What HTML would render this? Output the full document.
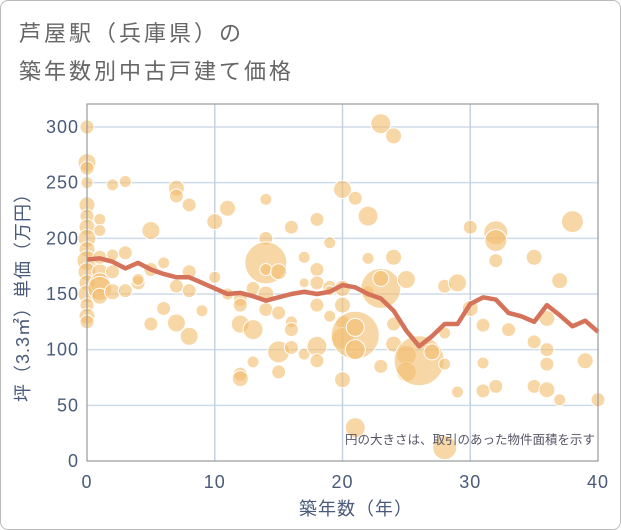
<!DOCTYPE html>
<html><head><meta charset="utf-8"><style>
body{margin:0;background:#fff;}
#wrap{position:relative;width:619px;height:528px;border:1px solid #bbb;border-radius:8px;overflow:hidden;background:#fff;font-family:"Liberation Sans","Noto Sans CJK JP",sans-serif;}
.t{position:absolute;left:18px;color:#666;font-size:22px;letter-spacing:3px;}
</style></head><body>
<div id="wrap">
<div class="t" style="top:15px">芦屋駅（兵庫県）の</div>
<div class="t" style="top:53px">築年数別中古戸建て価格</div>
<svg id="c" width="621" height="530" style="position:absolute;left:0;top:0"></svg>
</div>
<script>
const xTicks=[0,10,20,30,40];
const yTicks=[0,50,100,150,200,250,300];
const lineYears=[0,1,2,3,4,5,6,7,8,9,10,11,12,13,14,15,16,17,18,19,20,21,22,23,24,25,26,27,28,29,30,31,32,33,34,35,36,37,38,39,40];
const linePrices=[181,182,179,173,178,172,168,165,165,160,155,150,151,148,144,147,150,152,150,152,158,156,150,146,135,117,103,112,123,123,141,147,145,133,130,125,140,131,121,126,116];
const bubbleYears=[0,0,0,0,0,0,0,0,0,0,0,0,0,0,0,0,1,1,1,1,1,1,1,2,2,2,2,3,3,3,4,4,5,5,5,6,6,7,7,7,7,8,8,8,8,9,10,10,11,11,12,12,12,12,12,13,13,13,14,14,14,14,14,14,15,15,15,15,16,16,16,16,17,17,17,18,18,18,18,18,18,19,19,19,19,20,20,20,20,20,20,21,21,21,21,21,22,22,22,23,23,23,23,24,24,24,24,25,25,25,26,27,28,28,28,28,29,29,30,30,31,31,31,32,32,32,32,33,35,35,35,36,36,36,36,37,37,38,39,40];
const bubblePrices=[300,268,263,250,230,220,210,200,190,180,170,160,150,140,130,125,217,207,170,160,155,148,183,248,185,170,152,251,187,153,160,163,207,172,123,178,137,245,238,157,124,230,170,153,112,135,215,165,227,150,145,123,140,78,74,118,89,155,235,200,178,172,150,136,170,133,98,80,210,125,118,102,183,160,96,217,172,160,140,103,90,196,156,153,130,244,155,140,125,110,73,236,113,120,100,30,220,182,152,303,155,164,85,292,183,123,105,163,95,80,90,98,157,115,87,12,160,62,210,137,122,88,63,205,198,180,67,118,183,107,67,128,100,87,64,162,55,215,90,55];
const bubbleSizes=[7,9,7,6,8,7,8,9,8,10,9,8,9,7,8,7,6,6,8,10,12,8,7,6,6,7,8,6,7,7,7,6,9,7,7,6,7,8,7,7,9,7,7,7,9,6,8,6,8,6,7,9,7,7,8,10,6,7,6,7,21,6,8,7,8,7,11,7,7,6,7,7,6,5,6,7,7,7,7,10,7,6,7,5,6,9,8,8,7,11,8,7,24,9,10,10,10,6,6,10,20,8,7,8,8,7,8,9,10,10,25,8,7,6,6,12,9,6,7,8,7,6,7,12,11,7,7,7,8,7,7,8,7,7,8,8,6,11,8,7];
const NS="http://www.w3.org/2000/svg";
const svg=document.getElementById('c');
const X0=86,X1=597,Y0=460,Y1=103;
const xs=v=>X0+(v-0)/40*(X1-X0);
const ys=v=>Y0-v*(460-126)/300;
function mk(t,a){const e=document.createElementNS(NS,t);for(const k in a)e.setAttribute(k,a[k]);svg.appendChild(e);return e;}
yTicks.forEach(v=>{if(v>0){const g=mk('line',{x1:X0,x2:X1,y1:ys(v),y2:ys(v),stroke:'#cfdbe8','stroke-width':1.5});

}
const t=mk('text',{x:X0-8,y:ys(v)+6,'text-anchor':'end','font-size':18,fill:'#4a5a7a','font-family':'Liberation Sans,sans-serif','letter-spacing':1});t.textContent=v;

});
xTicks.forEach(v=>{if(v>0&&v<40){const g=mk('line',{x1:xs(v),x2:xs(v),y1:Y1,y2:Y0,stroke:'#c5d2e2','stroke-width':1.5});

}
const t=mk('text',{x:xs(v),y:487,'text-anchor':'middle','font-size':18,fill:'#4a5a7a','font-family':'Liberation Sans,sans-serif','letter-spacing':1});t.textContent=v;

});
bubbleYears.forEach((yr,i)=>{const c=mk('circle',{cx:xs(yr),cy:ys(bubblePrices[i]),r:bubbleSizes[i],fill:'#f3bd6c','fill-opacity':0.6,stroke:'#fff','stroke-width':1});

});
const pl=mk('polyline',{points:lineYears.map((y,i)=>xs(y)+','+ys(linePrices[i])).join(' '),fill:'none',stroke:'#d4735a','stroke-width':4.5,'stroke-linejoin':'round'});


const fr=mk('rect',{x:X0,y:Y1,width:X1-X0,height:Y0-Y1,fill:'none',stroke:'#999','stroke-width':1.2});


const note=mk('text',{x:594,y:443,'text-anchor':'end','font-size':12.5,fill:'#556','font-family':'Liberation Sans,Noto Sans CJK JP,sans-serif'});note.textContent='円の大きさは、取引のあった物件面積を示す';


const xt=mk('text',{x:355,y:514,'text-anchor':'middle','font-size':18,fill:'#4a5a7a','font-family':'Liberation Sans,Noto Sans CJK JP,sans-serif','letter-spacing':1});xt.textContent='築年数（年）';


const yt=mk('text',{x:0,y:0,'text-anchor':'middle','font-size':18,fill:'#4a5a7a','font-family':'Liberation Sans,Noto Sans CJK JP,sans-serif','letter-spacing':1,transform:'translate(28,292) rotate(-90)'});yt.textContent='坪（3.3㎡）単価（万円）';


</script>
</body></html>
